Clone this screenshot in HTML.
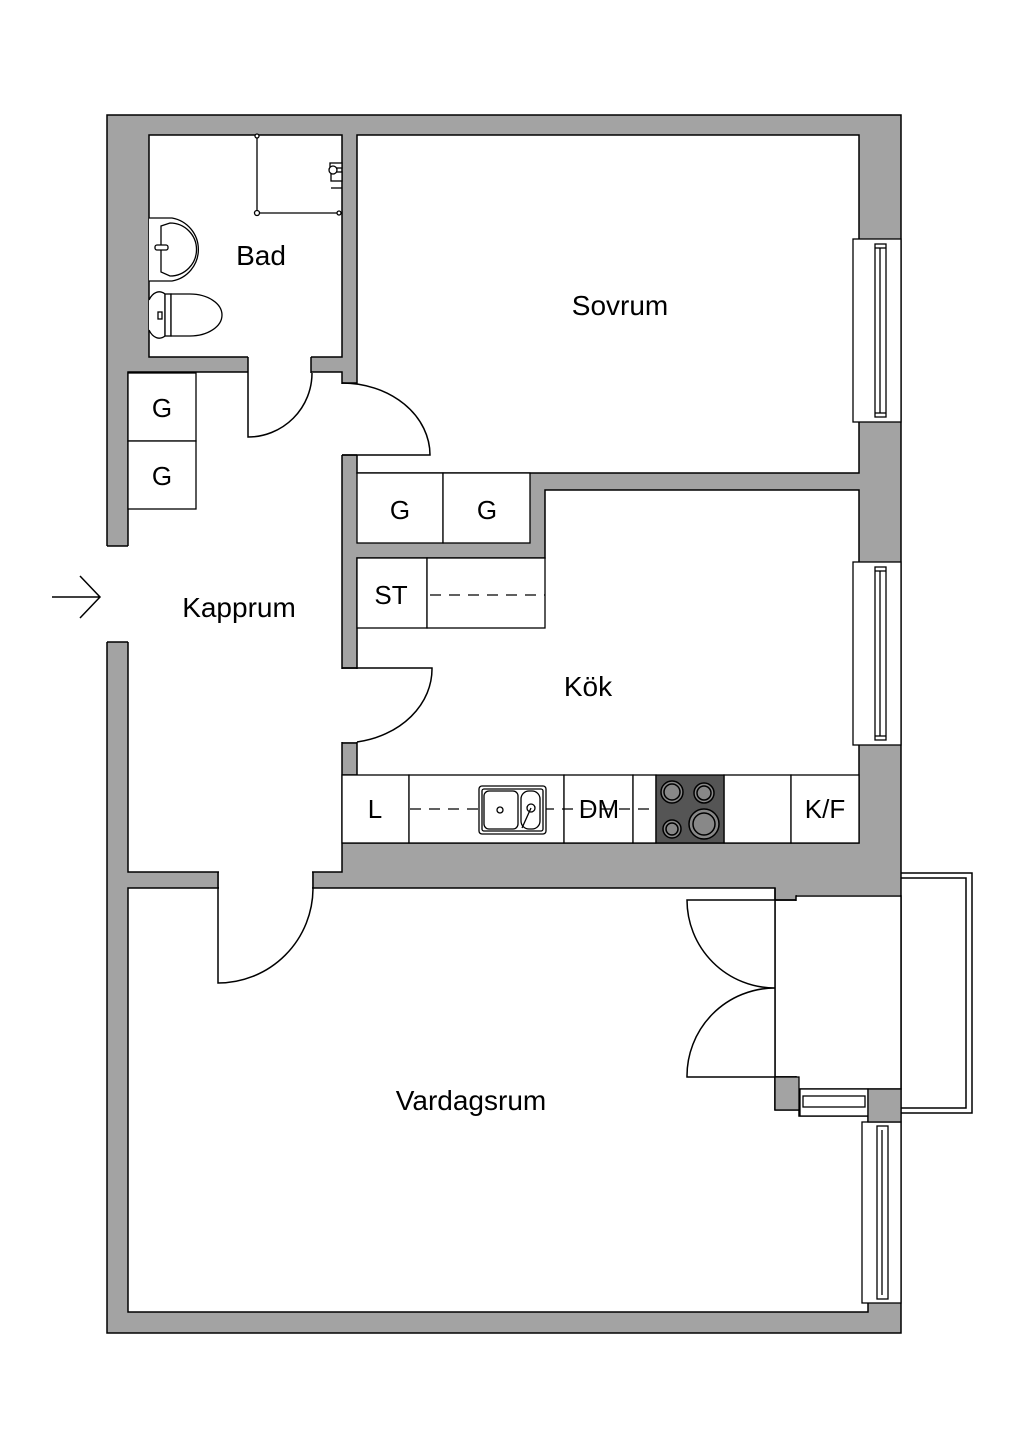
<!DOCTYPE html>
<html><head><meta charset="utf-8"><style>
html,body{margin:0;padding:0;background:#fff;}
svg{display:block;}
text{font-family:"Liberation Sans",sans-serif;fill:#000;}
</style></head><body>
<svg width="1024" height="1448" viewBox="0 0 1024 1448" xmlns="http://www.w3.org/2000/svg">
<g stroke="#000" stroke-width="1.5">
<!-- outer walls -->
<rect x="107" y="115" width="794" height="1218" fill="#a3a3a3"/>
<!-- rooms -->
<rect x="149" y="135" width="193" height="222" fill="#fff"/>
<rect x="357" y="135" width="502" height="338" fill="#fff"/>
<polygon points="545,490 859,490 859,843 342,843 342,775 357,775 357,558 545,558" fill="#fff"/>
<polygon points="128,372 342,372 342,872 128,872" fill="#fff"/>
<polygon points="128,888 775,888 775,1110 799,1110 799,1116 868,1116 868,1312 128,1312" fill="#fff"/>
<rect x="796" y="896" width="105" height="193" fill="#fff"/>
</g>
<!-- openings (no stroke) -->
<g fill="#fff">
<rect x="248" y="356" width="63" height="18"/>
<rect x="341" y="384" width="17" height="71"/>
<rect x="341" y="669" width="17" height="73"/>
<rect x="219" y="871" width="93" height="18"/>
<rect x="776" y="901" width="21" height="175"/>
<rect x="106" y="546" width="23" height="96"/>
<rect x="797" y="895" width="103" height="3"/>
</g>
<g stroke="#000" stroke-width="1.5" fill="none">
<line x1="107" y1="546" x2="128" y2="546"/>
<line x1="107" y1="642" x2="128" y2="642"/>
<line x1="248" y1="357" x2="248" y2="373"/><line x1="311" y1="357" x2="311" y2="373"/>
<line x1="342" y1="383" x2="357" y2="383"/><line x1="342" y1="455" x2="357" y2="455"/>
<line x1="342" y1="668" x2="357" y2="668"/><line x1="342" y1="743" x2="357" y2="743"/>
<line x1="218" y1="872" x2="218" y2="888"/><line x1="313" y1="872" x2="313" y2="888"/>
<line x1="775" y1="900" x2="796" y2="900"/><line x1="775" y1="1077" x2="796" y2="1077"/>
<line x1="775" y1="888" x2="775" y2="900"/><line x1="775" y1="1077" x2="775" y2="1110"/>
<line x1="796" y1="896" x2="901" y2="896"/>
<!-- doors -->
<path d="M248,373 L248,437 A64,64 0 0 0 312,373"/>
<path d="M342,455 L430,455 A88,72 0 0 0 342,383"/>
<path d="M342,668 L432,668 A90,74 0 0 1 357,742"/>
<path d="M218,888 L218,983 A95,95 0 0 0 313,888"/>
<path d="M796,900 L687,900 A88,88 0 0 0 775,988 A88,88 0 0 0 687,1077 L796,1077"/>
<!-- entrance arrow -->
<path d="M52,597 L100,597 M80,576 L100,597 L80,618"/>
<!-- balcony railing -->
<path d="M901,873 L972,873 L972,1113 L901,1113"/>
<path d="M901,878 L966,878 L966,1108 L901,1108"/>
</g>
<!-- windows -->
<g stroke="#000" stroke-width="1.3">
<rect x="853" y="239" width="48" height="183" fill="#fff"/>
<rect x="875" y="244" width="11" height="173" fill="#fff"/>
<line x1="880" y1="248" x2="880" y2="413"/><line x1="875" y1="248" x2="886" y2="248"/><line x1="875" y1="413" x2="886" y2="413"/>
<rect x="853" y="562" width="48" height="183" fill="#fff"/>
<rect x="875" y="567" width="11" height="173" fill="#fff"/>
<line x1="880" y1="571" x2="880" y2="736"/><line x1="875" y1="571" x2="886" y2="571"/><line x1="875" y1="736" x2="886" y2="736"/>
<rect x="862" y="1122" width="39" height="181" fill="#fff"/>
<rect x="877" y="1126" width="11" height="173" fill="#fff"/>
<line x1="882" y1="1130" x2="882" y2="1295"/>
<rect x="800" y="1089" width="68" height="27" fill="#fff"/>
<rect x="803" y="1096" width="62" height="11" fill="#fff"/>
<rect x="868" y="1089" width="33" height="33" fill="#a3a3a3"/>
<rect x="775" y="1077" width="24" height="33" fill="#a3a3a3"/>
</g>
<!-- cabinets -->
<g stroke="#000" stroke-width="1.3" fill="#fff">
<rect x="128" y="373" width="68" height="68"/><rect x="128" y="441" width="68" height="68"/>
<rect x="357" y="473" width="86" height="70"/><rect x="443" y="473" width="87" height="70"/>
<rect x="357" y="558" width="70" height="70"/><rect x="427" y="558" width="118" height="70"/>
<rect x="342" y="775" width="67" height="68"/><rect x="409" y="775" width="155" height="68"/>
<rect x="564" y="775" width="69" height="68"/><rect x="633" y="775" width="23" height="68"/>
<rect x="724" y="775" width="67" height="68"/><rect x="791" y="775" width="68" height="68"/>
</g>
<g stroke="#000" stroke-width="1.2" stroke-dasharray="11,8" fill="none">
<line x1="430" y1="595" x2="545" y2="595"/>
<line x1="410" y1="809" x2="655" y2="809"/>
</g>
<!-- sink -->
<g stroke="#000" stroke-width="1.3" fill="#fff">
<rect x="479" y="786" width="67" height="48" rx="3"/>
<rect x="482" y="789" width="61" height="42" rx="2"/>
<rect x="484" y="791" width="34" height="38" rx="5"/>
<rect x="521" y="791" width="19" height="38" rx="8"/>
<circle cx="500" cy="810" r="3"/><circle cx="531" cy="808" r="4"/>
<line x1="531" y1="808" x2="522" y2="828"/>
</g>
<!-- cooktop -->
<rect x="656" y="775" width="68" height="68" fill="#555" stroke="#000" stroke-width="1.3"/>
<g stroke="#000" stroke-width="1.5" fill="#888">
<circle cx="672" cy="792" r="11"/><circle cx="672" cy="792" r="8"/>
<circle cx="704" cy="793" r="10"/><circle cx="704" cy="793" r="7"/>
<circle cx="672" cy="829" r="9"/><circle cx="672" cy="829" r="6"/>
<circle cx="704" cy="824" r="15"/><circle cx="704" cy="824" r="11"/>
</g>
<!-- bathroom fixtures -->
<g stroke="#000" stroke-width="1.3" fill="#fff">
<path d="M257,136 L257,213 L342,213"/>
<circle cx="257" cy="136" r="2"/><circle cx="257" cy="213" r="2.5"/><circle cx="339" cy="213" r="2"/>
<rect x="330" y="163" width="12" height="5"/><rect x="331" y="172" width="11" height="9"/><circle cx="333" cy="170" r="4"/><line x1="331" y1="188" x2="342" y2="188"/>
<path d="M149,218 L172,218 A32,32 0 0 1 172,281 L149,281"/>
<path d="M161,226 L170,223 A26,26 0 0 1 170,276 L161,272 Z"/>
<rect x="155" y="245" width="13" height="5" rx="2"/>
<path d="M149,300 A13,21 0 0 1 165,294 L165,336 A13,21 0 0 1 149,330"/>
<rect x="165" y="294" width="6" height="42"/>
<path d="M171,294 L190,294 A32,21 0 0 1 190,336 L171,336 Z"/>
<rect x="158" y="312" width="4" height="7"/>
</g>
<!-- labels -->
<g font-size="28" text-anchor="middle">
<text x="261" y="265">Bad</text>
<text x="620" y="315">Sovrum</text>
<text x="239" y="617">Kapprum</text>
<text x="588" y="696">Kök</text>
<text x="471" y="1110">Vardagsrum</text>
</g>
<g font-size="26" text-anchor="middle">
<text x="162" y="417">G</text><text x="162" y="485">G</text>
<text x="400" y="519">G</text><text x="487" y="519">G</text>
<text x="391" y="604">ST</text>
<text x="375" y="818">L</text>
<text x="599" y="818">DM</text>
<text x="825" y="818">K/F</text>
</g>
</svg>
</body></html>
